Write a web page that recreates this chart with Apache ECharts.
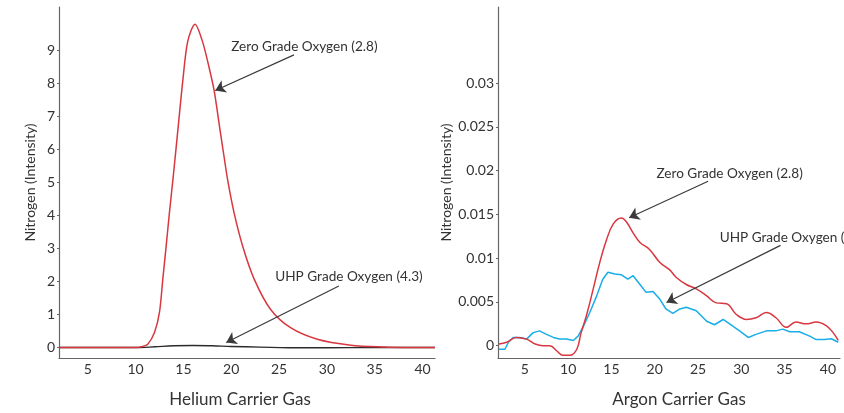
<!DOCTYPE html>
<html>
<head>
<meta charset="utf-8">
<script src="https://cdn.jsdelivr.net/npm/echarts@6/dist/echarts.min.js"></script>
<style>
  html, body { margin: 0; padding: 0; background: #fff; }
  #chart { width: 844px; height: 413px; }
</style>
</head>
<body>
<div id="chart"></div>
<script>
// Helium carrier gas (left panel)
const heliumZeroGrade = [
  [2, 0], [9, 0], [10.2, 0], [10.6, 0.02], [11.28, 0.1], [11.98, 0.45], [12.5, 1.06],
  [12.85, 2.07], [13.2, 3.07], [13.54, 4.08], [13.89, 5.04], [14.24, 6.05], [14.58, 7.05],
  [14.93, 8.06], [15.45, 9.27], [16.22, 9.8], [17.0, 9.27], [17.7, 8.47], [18.23, 7.76],
  [18.75, 6.75], [19.27, 5.75], [19.65, 5.04], [20.3, 4.08], [21.2, 3.07], [22.4, 2.07],
  [24.1, 1.16], [26.2, 0.6], [29.0, 0.25], [32.5, 0.07], [36, 0.01], [38, 0], [41.3, 0]
];
const heliumUhpGrade = [
  [2, 0], [10.5, 0], [12, 0.02], [14, 0.05], [16, 0.06], [18, 0.05], [20, 0.03],
  [23, 0.01], [26, -0.01], [30, -0.01], [35, 0], [41.3, 0]
];

// Argon carrier gas (right panel)
const argonZeroGrade = [
  [2.0, 0.0002], [2.9, 0.0004], [4.0, 0.00095], [5.2, 0.00076], [6.2, 0.0002],
  [7.1, 0], [7.9, 0], [8.7, -0.0006], [9.4, -0.0011], [10.2, -0.0011], [11.0, -0.0004],
  [11.5, 0.0015], [12.1, 0.0034], [12.9, 0.0065], [13.65, 0.0095], [14.4, 0.012],
  [15.2, 0.0139], [16.15, 0.0146], [16.7, 0.0142], [17.5, 0.0129], [18.3, 0.0118],
  [19.4, 0.011], [20.6, 0.0095], [21.7, 0.0087], [22.5, 0.0078], [23.65, 0.007],
  [24.8, 0.0065], [26.0, 0.0057], [27.1, 0.0049], [28.3, 0.0048], [29.4, 0.0036],
  [30.6, 0.003], [31.7, 0.0032], [32.9, 0.0038], [34.0, 0.0032], [35.2, 0.0021],
  [36.3, 0.0027], [37.5, 0.0025], [38.65, 0.0027], [39.8, 0.0023], [40.6, 0.0015],
  [41.2, 0.0006]
];
const argonUhpGrade = [
  [2.0, -0.0004], [2.7, -0.0004], [3.1, 0.0004], [3.65, 0.00095], [4.4, 0.00095],
  [5.2, 0.00076], [5.96, 0.0015], [6.7, 0.0017], [7.5, 0.0013], [8.3, 0.00095],
  [9.0, 0.00076], [9.8, 0.00076], [10.6, 0.0006], [11.15, 0.0011], [11.7, 0.0021],
  [12.5, 0.0038], [13.3, 0.0057], [14.0, 0.0076], [14.6, 0.0084], [15.4, 0.0082],
  [16.15, 0.0081], [16.9, 0.0076], [17.5, 0.008], [18.3, 0.007], [19.0, 0.0061],
  [19.8, 0.0062], [20.6, 0.0053], [21.3, 0.0042], [22.1, 0.0037], [22.9, 0.0042],
  [23.65, 0.0044], [24.8, 0.004], [26.0, 0.0028], [26.9, 0.0024], [27.9, 0.003],
  [28.65, 0.0025], [29.8, 0.0017], [30.8, 0.00095], [31.7, 0.0013], [32.9, 0.0017],
  [34.0, 0.0017], [34.8, 0.0019], [35.6, 0.0016], [36.7, 0.0016], [37.9, 0.0011],
  [38.65, 0.0007], [39.6, 0.0007], [40.4, 0.0008], [41.2, 0.0004]
];

const xTicks = [5, 10, 15, 20, 25, 30, 35, 40];
const heliumYTicks = [0, 1, 2, 3, 4, 5, 6, 7, 8, 9];
const argonYTicks = [0, 0.005, 0.01, 0.015, 0.02, 0.025, 0.03];

const zeroLabel = "Zero Grade Oxygen (2.8)";
const uhpLabel = "UHP Grade Oxygen (4.3)";

var dom = document.getElementById("chart");
var myChart = echarts.init(dom);

const FONT = "Lato";
const axisColor = "#666";
const textColor = "#333";
const red = "#d8373f";
const blue = "#19aee8";

function xAxisFor(gridIndex, name, min, max, padding) {
  return {
    type: "value",
    gridIndex: gridIndex,
    min: min,
    max: max,
    name: name,
    nameLocation: "middle",
    nameGap: 33,
    nameTextStyle: { fontFamily: FONT, fontSize: 17, color: textColor, padding: padding },
    axisLine: { show: true, onZero: false, lineStyle: { color: axisColor, width: 1.2 } },
    axisTick: { show: false },
    splitLine: { show: false },
    axisLabel: {
      customValues: xTicks,
      fontFamily: FONT,
      fontSize: 14,
      color: textColor,
      margin: 4,
    },
  };
}

function yAxisFor(gridIndex, min, max, ticks, nameGap) {
  return {
    type: "value",
    gridIndex: gridIndex,
    min: min,
    max: max,
    name: "Nitrogen (Intensity)",
    nameLocation: "middle",
    nameGap: nameGap,
    nameTextStyle: { fontFamily: FONT, fontSize: 14, color: textColor },
    axisLine: { show: true, onZero: false, lineStyle: { color: axisColor, width: 1.2 } },
    axisTick: { show: true, customValues: ticks, length: 2, lineStyle: { color: axisColor } },
    splitLine: { show: false },
    axisLabel: {
      customValues: ticks,
      fontFamily: FONT,
      fontSize: 14,
      color: textColor,
      margin: 4,
    },
  };
}

function annotation(text, textPos, from, to) {
  return {
    markLine: {
      silent: true,
      symbol: ["none", "arrow"],
      symbolSize: 10,
      label: { show: false },
      lineStyle: { color: "#3a3a3a", width: 1.2, type: "solid" },
      emphasis: { disabled: true },
      animation: false,
      data: [[{ coord: from }, { coord: to }]],
    },
    markPoint: {
      silent: true,
      symbol: "circle",
      symbolSize: 0,
      animation: false,
      label: {
        show: true,
        position: "right",
        distance: 0,
        formatter: text,
        fontFamily: FONT,
        fontSize: 13.6,
        color: textColor,
      },
      data: [{ coord: textPos }],
    },
  };
}

var option = {
  animation: false,
  backgroundColor: "#fff",
  grid: [
    { left: 59, right: 409, top: 7, bottom: 54 },
    { left: 498, right: 4, top: 7, bottom: 54 },
  ],
  xAxis: [
    xAxisFor(0, "Helium Carrier Gas", 2, 41.3, [0, 14, 0, 0]),
    xAxisFor(1, "Argon Carrier Gas", 1.9, 41.4, [0, 0, 0, 20]),
  ],
  yAxis: [
    yAxisFor(0, -0.32, 10.32, heliumYTicks, 22),
    yAxisFor(1, -0.0014, 0.0387, argonYTicks, 45),
  ],
  series: [
    Object.assign({
      name: "Helium UHP",
      type: "line",
      xAxisIndex: 0,
      yAxisIndex: 0,
      data: heliumUhpGrade,
      smooth: 0.4,
      showSymbol: false,
      lineStyle: { color: "#2b2b2b", width: 1.4 },
      z: 2,
    }, annotation(uhpLabel, [24.6, 2.16], [31.25, 1.86], [19.48, 0.15])),
    Object.assign({
      name: "Helium Zero",
      type: "line",
      xAxisIndex: 0,
      yAxisIndex: 0,
      data: heliumZeroGrade,
      smooth: 0.3,
      showSymbol: false,
      lineStyle: { color: red, width: 1.5 },
      z: 3,
    }, annotation(zeroLabel, [20.0, 9.11], [26.56, 8.87], [18.33, 7.79])),
    Object.assign({
      name: "Argon UHP",
      type: "line",
      xAxisIndex: 1,
      yAxisIndex: 1,
      data: argonUhpGrade,
      smooth: false,
      showSymbol: false,
      lineStyle: { color: blue, width: 1.5 },
      z: 2,
    }, annotation(uhpLabel, [27.5, 0.01241], [34.53, 0.01147], [21.36, 0.00494])),
    Object.assign({
      name: "Argon Zero",
      type: "line",
      xAxisIndex: 1,
      yAxisIndex: 1,
      data: argonZeroGrade,
      smooth: 0.4,
      showSymbol: false,
      lineStyle: { color: red, width: 1.5 },
      z: 3,
    }, annotation(zeroLabel, [20.2, 0.01964], [26.17, 0.01879], [17.04, 0.01462])),
  ],
};

if (option && typeof option === "object") {
  myChart.setOption(option);
}
</script>
</body>
</html>
